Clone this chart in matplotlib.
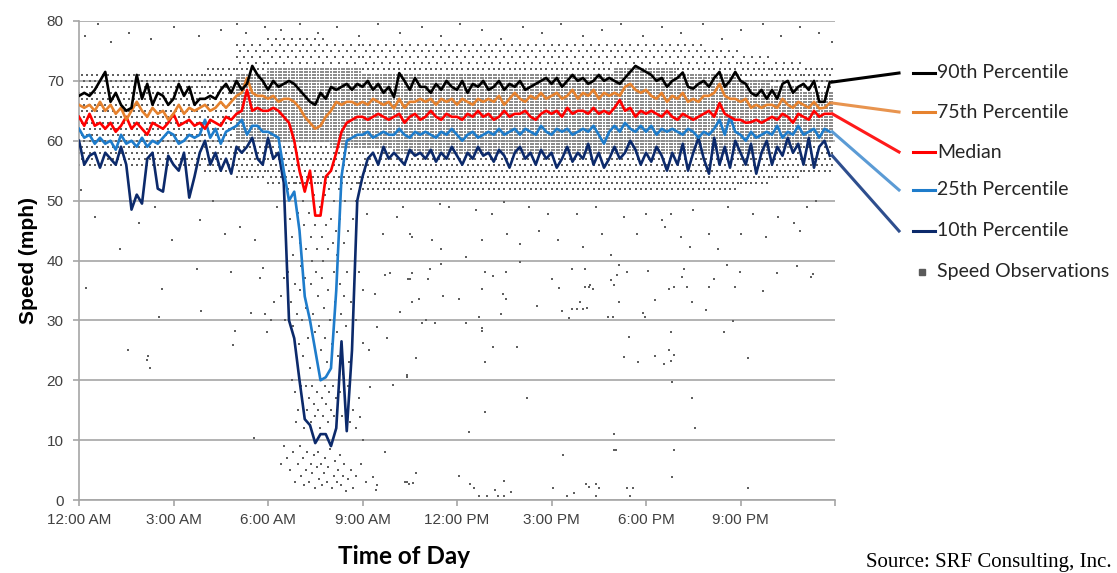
import numpy as np
import matplotlib.pyplot as plt
from matplotlib.lines import Line2D

# ---- data, 10-minute steps, one row per hour ----
p90 = [67.5, 68, 67.5, 68.5, 70, 71.5,
       66.5, 68, 66, 65, 65.5, 71,
       67, 69.5, 66, 68, 67.5, 66,
       67, 69.5, 67.5, 69, 66, 67,
       67, 67.5, 67, 68.5, 69.5, 68,
       70, 68.5, 69.5, 72.5, 71, 70,
       68.5, 70, 69, 69.5, 70, 69.5,
       68.5, 67.5, 66.5, 66, 68, 67,
       69, 68.5, 69, 69.5, 68.5, 69.5,
       69, 70, 68.5, 69.5, 68, 69,
       67.3, 71.3, 70, 68.5, 70.5, 69,
       69, 68, 69.5, 68.5, 70, 69,
       68.5, 70, 68, 69.5, 69, 70,
       68.5, 69, 70, 68.5, 69.5, 69,
       70, 68.5, 69, 69.5, 70, 70.5,
       69.5, 70.5, 69, 70, 71, 70,
       70.5, 69.5, 70, 71, 70, 70.5,
       70, 69.5, 70.5, 71.5, 72.5, 72,
       71.5, 71, 70, 70.5, 69, 70,
       70.5, 71.4, 69, 68.7, 69.5, 70,
       69, 70.5, 71.5, 69, 70, 71.5,
       70, 69.5, 68, 67.5, 68.5, 67,
       68.5, 67, 69.5, 70, 68, 69,
       69.5, 68.5, 70, 66.5, 66.5, 69.8]

p75 = [66, 65.5, 66, 65, 66.5, 65,
       66, 64.5, 65.5, 63.5, 65, 66.5,
       65, 64, 65.5, 64.5, 65, 63.5,
       64.5, 66, 64.5, 65.5, 65, 65.5,
       66, 65, 65.5, 66.5, 65.5, 66.5,
       67.5, 68, 70.5, 68, 67.5, 67.5,
       67, 67.5, 66.5, 67, 67, 66.5,
       65.5, 64, 63, 62, 62.5, 64,
       65, 66.5, 66, 66.5, 66.5, 66,
       66.5, 66, 67, 66.5, 66, 66.5,
       65.4, 67, 65.5, 66.5, 66.5, 67,
       66.5, 67, 66, 67, 66.5, 67,
       66, 67, 66.5, 66, 67, 66.5,
       67, 66.5, 67.5, 66, 67, 68,
       67, 66.5, 67.5, 67, 68, 67,
       67.5, 68, 67, 67.5, 68.5, 67,
       68, 67.5, 68.5, 67, 68, 67.5,
       68, 67.5, 69, 69.5, 68.5, 68,
       68.5, 67.5, 67, 68, 66.5, 67.5,
       67, 68, 66.5, 67, 66.5, 67.5,
       67.5, 68, 69.5, 67.5, 67, 67,
       66.5, 67, 65.5, 66, 65.5, 66,
       66, 65.5, 67, 66, 65.5, 66.5,
       66, 65.5, 66.5, 65.4, 65.5, 66.3]

p50 = [64, 62.5, 64.5, 62.5, 63, 62,
       63, 61.5, 62.5, 64, 62, 63,
       62, 61, 63, 62.5, 62, 63,
       64.5, 62.5, 63, 63.5, 62.5, 63,
       62, 63.5, 63, 62.5, 64, 63.5,
       64.5, 65, 68.5, 65, 65.5, 65,
       65, 65.5, 65, 64, 63, 60,
       55, 51.5, 55, 47.5, 47.5, 54,
       55, 58, 61.5, 63, 63.5, 64,
       64, 63.5, 64, 64.5, 64, 63.5,
       64, 64.5, 63, 64, 64.5, 63.5,
       64, 65, 64, 63.5, 64.5, 64,
       64, 63.5, 64.5, 64, 65, 64,
       64.5, 63.5, 64, 65, 64, 64.5,
       64.5, 65, 64, 63.5, 64.5, 65,
       64.5, 65, 64, 65.5, 64.5, 65,
       65, 64.5, 65.5, 64.5, 65, 64.5,
       65.5, 66.8, 65, 65.5, 64, 65,
       64.5, 65, 64.5, 64, 65, 64,
       63.5, 64.5, 64, 63.5, 64, 64.5,
       65, 64, 66.3, 64.5, 64, 63.5,
       63.5, 63, 63.1, 63.5, 63, 63.5,
       64, 63.5, 64.5, 64, 63, 64.5,
       64, 63.5, 65, 64, 64.5, 64.5]

p25 = [62, 60.5, 61, 59.5, 60.5, 59.5,
       60, 58.5, 61, 59.5, 60, 59,
       60.5, 59, 60, 59.5, 60.5, 61.5,
       61, 59.5, 60, 61, 60.5, 61,
       63.5, 60.5, 62, 59.5, 61.5, 62,
       62.5, 63.5, 61, 62.5, 62.5, 61.5,
       61.5, 61, 60.5, 55, 50, 51.5,
       45, 34, 30, 25, 20, 20.5,
       22, 35, 54, 60, 60.5, 61,
       61, 61.5, 60.5, 61, 61.5, 61,
       61, 62, 61, 60.5, 61.5, 61,
       61.5, 61, 60.5, 61.5, 61, 62,
       61, 60, 61, 61.5, 60.5, 61,
       61.5, 61, 62, 61, 61.5, 62,
       61, 62, 61.5, 61, 62.5, 61.5,
       61, 62, 61.5, 62, 61, 61.5,
       62, 61.5, 62.5, 61, 59.5, 61.5,
       62.5, 61.5, 63, 62, 61.5, 62.5,
       61.5, 62.5, 61, 62, 61.5, 62,
       61.5, 61, 62, 61.5, 60.5, 61.5,
       61, 62, 63.5, 61, 64, 61.5,
       61, 60, 61.5, 60.5, 61, 61.5,
       61, 62.5, 60.5, 61.5, 61, 62.5,
       61, 61.5, 62, 60.5, 62, 61.5]

p10 = [60, 56, 57.5, 58, 55.5, 58,
       57, 56, 59, 56, 48.5, 51,
       49.5, 57, 58, 52, 51.5, 57.5,
       56, 55, 58, 50.5, 54, 58,
       60, 56, 58, 55, 57, 54.5,
       59, 58, 59, 60.5, 57, 56,
       60.5, 57, 58, 53, 30, 27,
       20, 13.5, 12.5, 9.5, 11, 11,
       9, 12, 26.5, 11.5, 25, 50,
       54, 57, 58, 56, 59, 57,
       58, 57, 56, 58.5, 57.5, 58,
       57, 58.5, 56.5, 58, 57, 59,
       57.5, 56, 58, 57, 59, 57.5,
       58, 56.5, 58.5, 57.5, 55.5, 58,
       59, 57, 58, 56, 58.5, 57,
       58, 55.5, 57, 59, 56.5, 58,
       57, 59.5, 56, 58, 55.5, 57,
       59, 57, 58, 60, 58.5, 56,
       58, 56.5, 59, 57.5, 55, 58,
       56, 59.5, 55, 58, 60.5, 57,
       54.5, 60.5, 56, 59, 55.5, 60,
       58, 56, 59.5, 54.5, 58, 60,
       56, 59, 57.5, 60.5, 58, 59.5,
       56, 60.5, 55.5, 59, 60, 57.5]

# speed observation cloud: per hour, dense core and lighter halo (mph)
core_lo = [0, 0, 0, 0, 0, 60, 60, 60, 59, 59, 58, 58,
           58, 58, 58, 58, 58, 58, 58, 58, 58, 58, 59, 60]
core_hi = [0, 0, 0, 0, 0, 71, 72, 72, 72, 71, 71, 71,
           71, 71, 71, 71, 71, 72, 72, 71, 71, 70, 69, 68]
halo_lo = [56, 56, 56, 56, 55, 54, 53, 53, 53, 52, 52, 52,
           52, 52, 52, 52, 52, 52, 52, 52, 52, 53, 54, 55]
halo_hi = [71, 71, 71, 71, 72, 76, 77, 77, 76, 76, 76, 76,
           76, 76, 76, 76, 76, 76, 76, 76, 75, 74, 73, 72]

# scattered observations outside the main band (hour, mph)
stray_h = [0.22, 1.55, 2.15, 2.2, 2.25, 2.65, 2.54, 3.88, 3.74, 4.82, 4.96, 4.9,
           5.56, 5.45, 5.83, 5.75, 5.9, 5.96,
           8.92, 9.24, 9.02, 9.2, 9.77, 9.46, 9.4, 9.71, 9.87, 10.19, 9.98, 9.71,
           9.33, 9.43, 9.47, 10.4, 10.35, 10.6, 10.7, 10.57, 10.5,
           10.45, 10.57, 10.8, 10.9, 11.0, 11.07, 11.14, 11.3, 11.49, 11.56, 12.07,
           12.3, 12.7, 12.8, 12.8, 12.8, 12.89, 13.15, 12.89, 13.15, 13.4, 13.47,
           13.56, 13.56, 13.9, 14.0, 14.55, 15.0, 15.24, 15.33, 15.56, 15.65, 15.65,
           15.8, 16.0, 15.9, 16.06, 16.06, 16.13, 16.22, 16.2, 16.33, 16.8, 16.95,
           16.89, 16.99, 17.07, 17.14, 17.14, 17.4, 17.46, 17.3, 17.74, 17.9, 17.97,
           18.06, 18.3, 18.3, 18.57, 18.8, 18.73, 18.73, 18.8, 18.88, 18.88, 18.82,
           19.2, 19.13, 19.3, 19.46, 19.46, 19.56, 19.9, 20.0, 20.16, 20.48, 20.57,
           20.76, 20.84, 20.98, 21.24, 21.7, 22.15, 22.8, 23.24, 23.3,
           10.4, 10.7, 12.9, 12.39, 14.22, 15.37, 16.98, 16.98, 17.05, 18.89, 18.82,
           10.4, 10.47, 10.7, 12.07, 12.4, 12.55, 12.7, 12.96, 13.2, 13.3, 13.5,
           13.5, 13.7, 15.05, 15.5, 15.7, 16.1, 16.2, 16.4, 16.5, 16.4, 17.4, 17.6,
           17.5, 21.24,
           10.3, 10.57, 11.46, 11.2, 11.5, 11.75, 12.3, 12.6, 12.8, 13.1, 13.5,
           13.6, 14.0, 14.3, 14.6, 14.9, 15.2, 15.8, 16.0, 16.4, 16.6, 16.9, 17.3,
           17.7, 18.0, 18.5, 18.6, 18.8, 19.1, 19.4, 19.5, 20.0, 20.3, 20.6, 21.0,
           21.4, 21.8, 22.2, 22.7, 22.9, 23.1, 23.4,
           0.5, 0.05, 1.3, 1.9, 2.95, 3.84, 4.25, 4.65, 5.1, 5.6, 6.3, 9.14, 9.65,
           10.1, 10.5, 2.4,
           0.2, 0.6, 1.0, 1.6, 2.3, 3.0, 3.8, 4.5, 5.0, 5.3, 5.9, 6.4, 7.0, 7.6,
           8.2, 8.9, 9.5, 10.2, 10.9, 11.5, 12.1, 12.8, 13.4, 14.1, 14.7, 15.3,
           16.0, 16.6, 17.2, 17.9, 18.5, 19.1, 19.8, 20.4, 21.0, 21.7, 22.3, 22.9,
           23.5, 23.9]
stray_s = [35.4, 25, 23.4, 24, 22, 35.2, 30.5, 31.5, 38.6, 38, 28.2, 25.9,
           10.4, 31.2, 38.7, 37, 31, 28,
           13.9, 18.9, 26.2, 25, 27.1, 28.9, 34.4, 37.6, 37.9, 31.4, 19.2, 8,
           3.8, 1.7, 2.5, 20.9, 3, 2.8, 23.7, 37.9, 36.9,
           36.9, 33.1, 33.6, 29.5, 30, 36.9, 38.6, 29.5, 39.4, 34, 33.6,
           29.5, 30.5, 35.2, 28.8, 28.2, 38, 37.4, 23, 25.6, 31, 34.4,
           38.1, 33.6, 25.6, 39.8, 32.4, 36.9, 35.4, 31.6, 30.4, 38.6, 31.9,
           31.9, 31.9, 33.1, 38.6, 35.5, 32, 35.9, 35.5, 35.3, 30.5, 30.5,
           36.7, 35.9, 37.6, 39.2, 33.1, 38.1, 27.2, 23.9, 23, 31.2, 30.5,
           38.2, 24, 33.4, 22.7, 28, 25, 35.3, 23.2, 24.2, 35.6, 19.7,
           38.6, 37.2, 35.5, 33.1, 17.1, 12, 31.7, 35.6, 36.9, 28, 39.2,
           29.9, 35.6, 38.1, 23.7, 34.9, 37.9, 39, 37.3, 37.8,
           20.6, 23.7, 14.7, 11.4, 17, 7.5, 11, 8.3, 8.3, 8.3, 3.8,
           3, 2.6, 4.5, 4, 2.6, 2, 0.7, 0.7, 1.7, 0.7, 0.7,
           3.2, 1.3, 2, 0.7, 1.1, 2.6, 2.2, 2.6, 2, 0.7, 2, 2,
           0.7, 2,
           48.9, 43.9, 49.5, 43.4, 42, 48.9, 40.6, 48.4, 43.4, 47.8, 49.8,
           44.5, 42.8, 48.9, 45, 47.8, 43.4, 47.8, 42.3, 48.9, 44.5, 40.9, 47.3,
           44.5, 47.8, 46.7, 45.6, 47.8, 43.9, 42.3, 48.4, 44.5, 42, 48.9, 44.5,
           47.8, 43.9, 47.3, 46.2, 45, 48.9, 50,
           47.3, 51.8, 42, 46.2, 43.4, 46.7, 50, 44.5, 45.6, 43.4, 48.9, 47.8, 44.5,
           47.3, 44.5, 48.9,
           77.5, 79.5, 76.5, 78, 77, 79, 77.5, 78.5, 79.5, 78, 79, 78.5, 79.5, 78,
           79, 77.5, 79.5, 78, 79, 77.5, 79.5, 78.5, 77, 79, 78, 79.5,
           77.5, 78.5, 79.5, 77.5, 79, 78, 79.5, 77, 78.5, 79.5, 77.5, 79,
           78, 76.5]

# observations during the morning slowdown (hour, mph)
dip_h = [6.62, 6.7, 6.75, 6.8, 6.9, 6.95, 7.0, 7.05, 7.1, 7.15, 7.2, 7.25, 7.3,
         7.35, 7.4, 7.45, 7.5, 7.55, 7.6, 7.65, 7.7, 7.75, 7.8, 7.85, 7.9, 7.95,
         8.0, 8.05, 8.1, 8.15, 8.2, 8.25, 8.3, 8.4, 8.45, 8.55, 8.65, 8.7, 8.8, 8.9,
         6.65, 6.72, 6.78, 6.85, 6.92, 6.98, 7.02, 7.08, 7.12, 7.18, 7.22, 7.28,
         7.32, 7.38, 7.42, 7.48, 7.52, 7.58, 7.62, 7.68, 7.72, 7.78, 7.82, 7.88,
         7.92, 7.98, 8.02, 8.08, 8.12, 8.18, 8.22, 8.28, 8.32, 8.38, 8.42, 8.48,
         8.52, 8.58, 8.62, 8.72, 8.78, 8.88, 6.55, 6.5, 6.4, 6.2, 6.1, 9.0,
         6.85, 6.95, 7.05, 7.1, 7.15, 7.2, 7.25, 7.3, 7.35, 7.4, 7.45, 7.5, 7.55,
         7.6, 7.65, 7.7, 7.75, 7.8, 7.85, 7.9, 7.95, 8.0, 8.05, 8.1, 8.15, 8.2,
         8.3, 8.35, 8.45, 8.55, 8.6, 8.7, 8.8, 8.9, 9.0, 6.75, 6.9,
         6.6, 6.7, 6.8, 6.85, 6.95, 7.0, 7.05, 7.1, 7.15, 7.2, 7.25, 7.3, 7.35,
         7.4, 7.45, 7.5, 7.55, 7.6, 7.62, 7.68, 7.72, 7.78, 7.82, 7.88, 7.92,
         7.98, 8.02, 8.08, 8.12, 8.18, 8.22, 8.28, 8.32, 8.38, 8.42, 8.48, 8.55,
         8.62, 8.7, 8.8, 8.95, 9.1, 6.5, 6.4]
dip_s = [52, 47, 44, 41, 53, 48, 43, 39, 50, 46, 42, 53, 48,
         44, 40, 51, 46, 42, 53, 49, 44, 40, 51, 46, 42, 52,
         47, 43, 50, 45, 41, 52, 47, 43, 50, 45, 52, 47, 50, 53,
         38, 33, 29, 36, 31, 26, 35, 30, 24, 37, 32, 27,
         22, 36, 31, 28, 38, 34, 29, 25, 37, 32, 27, 23,
         35, 30, 26, 38, 33, 28, 24, 36, 31, 21, 34, 29,
         38, 23, 33, 36, 30, 38, 30, 37, 34, 33, 30, 35,
         18, 15, 19, 16, 12, 19, 15, 17, 13, 19, 16, 14, 18,
         15, 12, 17, 14, 19, 16, 13, 18, 15, 19, 14, 17, 15,
         18, 14, 16, 19, 13, 15, 12, 17, 10, 20, 13,
         7, 5, 8, 3, 6, 9, 4, 7, 2.5, 5, 8, 3, 6,
         4.5, 7.5, 2, 5.5, 8, 3.5, 6, 2.5, 4.5, 7, 3, 5.5,
         8.5, 2, 4, 6.5, 3, 5, 7.5, 2.5, 4, 6, 1.5, 3.5,
         5, 2, 4, 6, 3, 9, 6]

hours = np.arange(len(p90)) / 6
series = [
    ('90th Percentile', p90, '#000000', '#000000', 73),
    ('75th Percentile', p75, '#E6822E', '#E8944F', 112),
    ('Median', p50, '#FF0000', '#FF1A1A', 152),
    ('25th Percentile', p25, '#1E7CCB', '#5B9BD5', 190),
    ('10th Percentile', p10, '#0C2A6B', '#2E4E8E', 231),
]

# build the observation cloud from the per-hour bands
core_x, core_y = [], []
obs_x, obs_y = [], []
for hr in range(24):
    if core_hi[hr] > core_lo[hr]:
        for t in hr + np.arange(12) / 12:
            for s in np.arange(core_lo[hr], core_hi[hr] + 0.25, 0.5):
                core_x.append(t)
                core_y.append(s)
    for k, s in enumerate(np.arange(halo_lo[hr], halo_hi[hr] + 0.5, 1.0)):
        if core_lo[hr] <= s <= core_hi[hr] and core_hi[hr] > core_lo[hr]:
            continue
        step = 4 if s > 72 else 6
        for t in hr + (np.arange(step) + 0.5 * (k % 2)) / step:
            obs_x.append(t)
            obs_y.append(s)
obs_x += stray_h + dip_h
obs_y += stray_s + dip_s

W, H = 1117, 573
fig = plt.figure(figsize=(W / 100, H / 100), dpi=100)
ax = fig.add_axes([79 / W, 1 - 500 / H, 756 / W, 479 / H])

ax.scatter(core_x, core_y, s=1.1, marker='s', color='#8C8C8C', linewidths=0, zorder=2)
ax.scatter(obs_x, obs_y, s=1.8, marker='s', color='#606060', linewidths=0, zorder=2)

for name, vals, col, lcol, ypx in series[::-1]:
    ax.plot(hours, vals, color=col, lw=1.9, zorder=3)

ax.set_xlim(0, 24)
ax.set_ylim(0, 80)
ax.set_yticks(range(0, 81, 10))
ax.set_xticks(range(0, 25, 3))
ax.set_xticklabels(['12:00 AM', '3:00 AM', '6:00 AM', '9:00 AM', '12:00 PM',
                    '3:00 PM', '6:00 PM', '9:00 PM', ''])
ax.grid(axis='y', color='#A6A6A6', lw=1.2, zorder=1)
ax.set_axisbelow(True)
for sp in ['top', 'right']:
    ax.spines[sp].set_visible(False)
for sp in ['left', 'bottom']:
    ax.spines[sp].set_color('#A6A6A6')
    ax.spines[sp].set_linewidth(1.2)
ax.tick_params(axis='both', colors='#A6A6A6', length=4, width=1.2,
               labelcolor='#404040', labelsize=11)
ax.tick_params(axis='y', pad=7)
ax.tick_params(axis='x', pad=5)
for lab in ax.get_xticklabels() + ax.get_yticklabels():
    lab.set_fontfamily('Liberation Sans')

ax.set_ylabel('Speed (mph)', fontsize=15, fontweight='bold',
              fontfamily='Liberation Sans', labelpad=6)
fig.text(404 / W, 1 - 557 / H, 'Time of Day', fontsize=17.5, fontweight='bold',
         fontfamily='Lato', ha='center', va='center')

# leader lines from the last point of each series to its legend row
inv = ax.transData.inverted()
for name, vals, col, lcol, ypx in series:
    ex, ey = inv.transform((899, H - ypx))
    ax.plot([hours[-1] + 0.08, ex], [vals[-1], ey], color=lcol, lw=2.2,
            clip_on=False, zorder=3)
    fig.add_artist(Line2D([913 / W, 935 / W], [1 - ypx / H, 1 - ypx / H],
                          color=col, lw=2.2))
    fig.text(937 / W, 1 - ypx / H, name, fontsize=14, fontfamily='Lato',
             color='#262626', va='center', ha='left')
fig.add_artist(Line2D([922 / W], [1 - 272 / H], marker='s', markersize=5,
                      color='#5A5A5A', lw=0))
fig.text(937 / W, 1 - 272 / H, 'Speed Observations', fontsize=14,
         fontfamily='Lato', color='#262626', va='center', ha='left')

fig.text(866 / W, 1 - 562 / H, 'Source: SRF Consulting, Inc.', fontsize=15,
         fontfamily='Liberation Serif', va='center', ha='left')

fig.savefig('out.png', dpi=100)
